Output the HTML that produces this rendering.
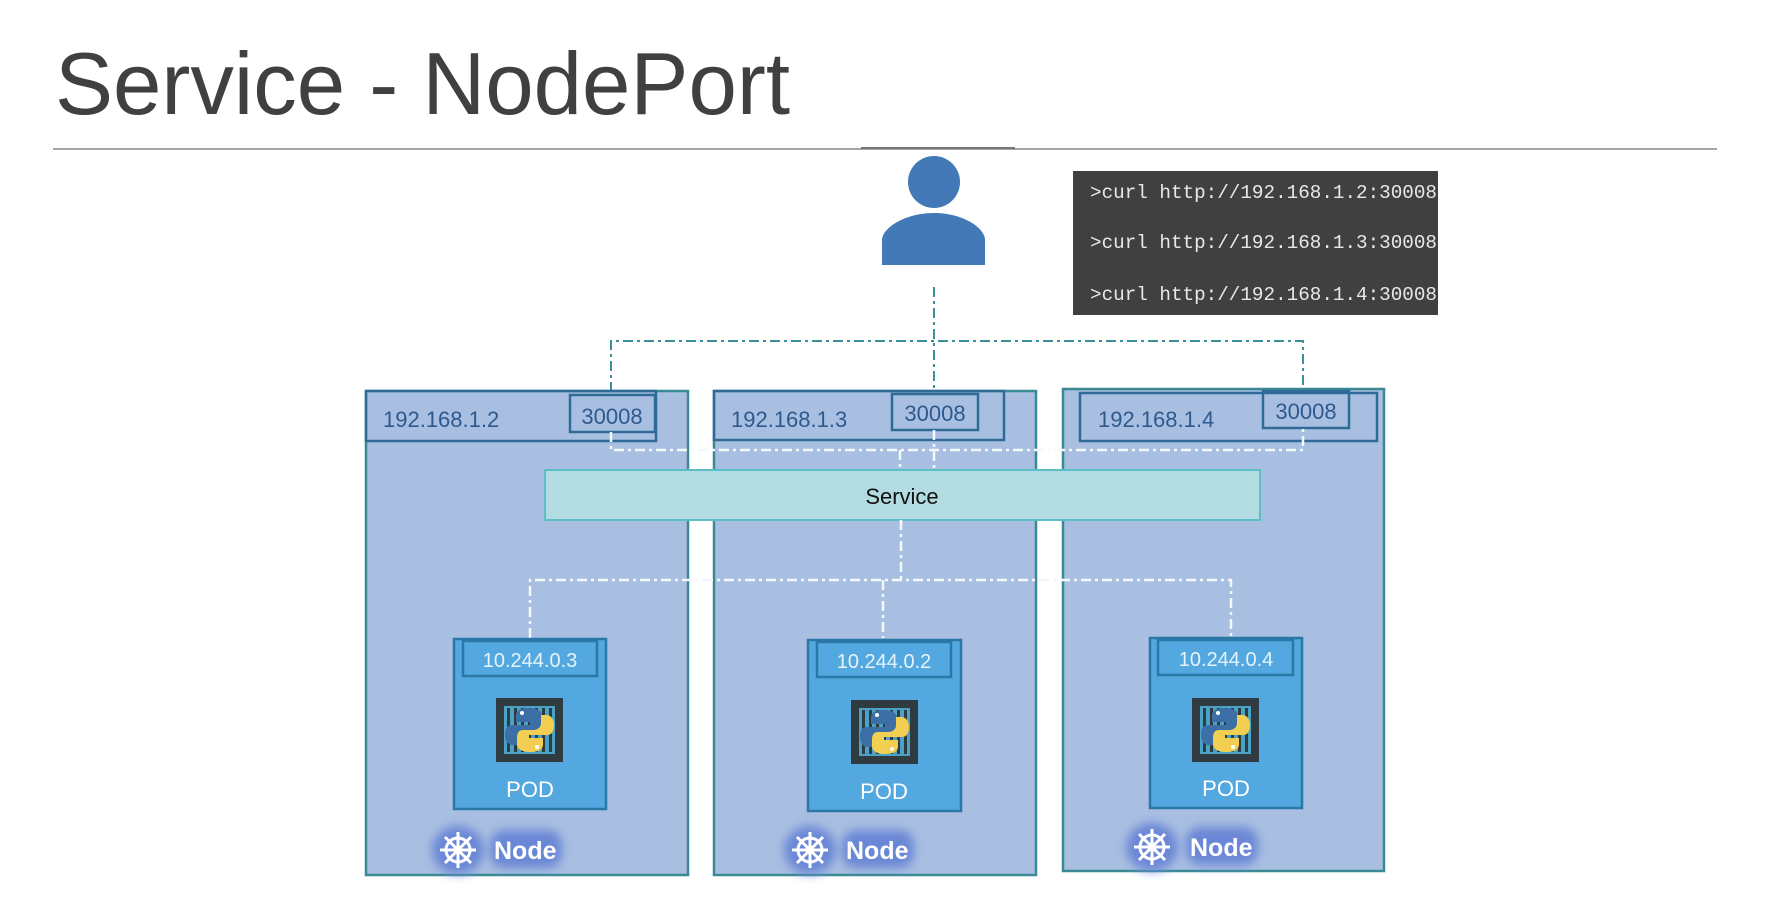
<!DOCTYPE html>
<html><head><meta charset="utf-8"><style>
html,body{margin:0;padding:0;background:#fff;width:1768px;height:902px;overflow:hidden}
svg{display:block}
</style></head><body>
<svg width="1768" height="902" viewBox="0 0 1768 902" xmlns="http://www.w3.org/2000/svg">
<defs>
<filter id="glow" x="-30%" y="-60%" width="160%" height="220%"><feGaussianBlur stdDeviation="5"/></filter>
<g id="pyicon">
 <rect x="0" y="0" width="67" height="64" fill="#2f3b40"/>
 <rect x="8" y="8" width="51" height="48" fill="#4aa3c4"/>
 <g fill="#2f3b40"><rect x="11" y="10" width="3" height="44"/><rect x="18" y="10" width="3" height="44"/><rect x="25" y="10" width="3" height="44"/><rect x="32" y="10" width="3" height="44"/><rect x="39" y="10" width="3" height="44"/><rect x="46" y="10" width="3" height="44"/><rect x="53" y="10" width="3" height="44"/></g>
 <path d="M33 10 C22 10 20 14 20 18 L20 24 L34 24 L34 27 L16 27 C10 27 9 33 9 37 C9 43 12 47 17 47 L22 47 L22 39 C22 35 25 32 30 32 L40 32 C44 32 46 29 46 25 L46 18 C46 13 41 10 33 10 Z" fill="#3b6fa5"/>
 <path d="M34 54 C45 54 47 50 47 46 L47 40 L33 40 L33 37 L51 37 C57 37 58 31 58 27 C58 21 55 17 50 17 L45 17 L45 25 C45 29 42 32 37 32 L27 32 C23 32 21 35 21 39 L21 46 C21 51 26 54 34 54 Z" fill="#f2cf52"/>
 <circle cx="26" cy="15" r="2" fill="#fff"/><circle cx="41" cy="49" r="2" fill="#fff"/>
</g>
<g id="wheel" stroke="#fff" fill="none" stroke-width="3">
 <circle cx="0" cy="0" r="12"/><circle cx="0" cy="0" r="3" fill="#fff"/>
 <line x1="0" y1="-18" x2="0" y2="18"/><line x1="-18" y1="0" x2="18" y2="0"/>
 <line x1="-13" y1="-13" x2="13" y2="13"/><line x1="13" y1="-13" x2="-13" y2="13"/>
</g>
</defs>

<text x="55" y="114" font-family="Liberation Sans, sans-serif" font-size="88" fill="#404040" textLength="735" lengthAdjust="spacingAndGlyphs">Service - NodePort</text>
<line x1="53" y1="149" x2="1717" y2="149" stroke="#888" stroke-width="1.5"/>
<line x1="861" y1="148" x2="1015" y2="148" stroke="#777" stroke-width="2"/>

<!-- person -->
<circle cx="934" cy="182" r="26" fill="#4279b6"/>
<path d="M882 265 L882 240 C882 228 905 213 934 213 C963 213 985 228 985 240 L985 265 Z" fill="#4279b6"/>

<!-- terminal -->
<rect x="1073" y="171" width="365" height="144" fill="#404040"/>
<g font-family="Liberation Mono, monospace" font-size="19" fill="#e8e8e8">
<text x="1090" y="198" textLength="347" lengthAdjust="spacingAndGlyphs">&gt;curl http://192.168.1.2:30008</text>
<text x="1090" y="248" textLength="347" lengthAdjust="spacingAndGlyphs">&gt;curl http://192.168.1.3:30008</text>
<text x="1090" y="300" textLength="347" lengthAdjust="spacingAndGlyphs">&gt;curl http://192.168.1.4:30008</text>
</g>

<!-- teal dash-dot external lines -->
<g stroke="#3a8f99" stroke-width="2" fill="none" stroke-dasharray="10 4 3 4">
<path d="M934 287 L934 392"/>
<path d="M611 392 L611 341 L1303 341 L1303 390"/>
</g>

<!-- nodes -->
<g id="n1">
<rect x="366" y="391" width="322" height="484" fill="#a9bfe1" stroke="#3a8a96" stroke-width="2.5"/>
<rect x="366" y="391" width="290" height="50" fill="none" stroke="#2f6b96" stroke-width="2.5"/>
<rect x="570" y="395" width="85" height="37" fill="none" stroke="#2f6b96" stroke-width="2.5"/>
<text x="383" y="427" font-family="Liberation Sans, sans-serif" font-size="22" fill="#2d5a8e">192.168.1.2</text>
<text x="612" y="424" text-anchor="middle" font-family="Liberation Sans, sans-serif" font-size="22" fill="#2d5a8e">30008</text>
</g>
<g>
<rect x="714" y="391" width="322" height="484" fill="#a9bfe1" stroke="#3a8a96" stroke-width="2.5"/>
<rect x="714" y="391" width="290" height="49" fill="none" stroke="#2f6b96" stroke-width="2.5"/>
<rect x="892" y="394" width="86" height="36" fill="none" stroke="#2f6b96" stroke-width="2.5"/>
<text x="731" y="427" font-family="Liberation Sans, sans-serif" font-size="22" fill="#2d5a8e">192.168.1.3</text>
<text x="935" y="421" text-anchor="middle" font-family="Liberation Sans, sans-serif" font-size="22" fill="#2d5a8e">30008</text>
</g>
<g>
<rect x="1063" y="389" width="321" height="482" fill="#a9bfe1" stroke="#3a8a96" stroke-width="2.5"/>
<rect x="1080" y="393" width="297" height="48" fill="none" stroke="#2f6b96" stroke-width="2.5"/>
<rect x="1263" y="391" width="86" height="37" fill="none" stroke="#2f6b96" stroke-width="2.5"/>
<text x="1098" y="427" font-family="Liberation Sans, sans-serif" font-size="22" fill="#2d5a8e">192.168.1.4</text>
<text x="1306" y="419" text-anchor="middle" font-family="Liberation Sans, sans-serif" font-size="22" fill="#2d5a8e">30008</text>
</g>

<!-- white dash line at ports -->
<g stroke="#f4f8fb" stroke-width="2.5" fill="none" stroke-dasharray="10 4 3 4">
<path d="M611 432 L611 450 L1303 450 L1303 428"/>
<path d="M934 430 L934 469"/>
<path d="M900 450 L900 469"/>
</g>

<!-- service -->
<rect x="545" y="470" width="715" height="50" fill="#b2dce1" stroke="#5cbfc6" stroke-width="2"/>
<text x="902" y="504" text-anchor="middle" font-family="Liberation Sans, sans-serif" font-size="22" fill="#111">Service</text>

<!-- white dash to pods -->
<g stroke="#f4f8fb" stroke-width="2.5" fill="none" stroke-dasharray="10 4 3 4">
<path d="M901 520 L901 580"/>
<path d="M530 638 L530 580 L1231 580 L1231 637"/>
<path d="M883 580 L883 638"/>
</g>

<!-- pods -->
<g>
<rect x="454" y="639" width="152" height="170" fill="#52a8df" stroke="#2b77a6" stroke-width="2.5"/>
<rect x="463" y="641" width="134" height="35" fill="none" stroke="#2b77a6" stroke-width="2.5"/>
<text x="530" y="667" text-anchor="middle" font-family="Liberation Sans, sans-serif" font-size="20" fill="#e6f3fb">10.244.0.3</text>
<use href="#pyicon" x="496" y="698"/>
<text x="530" y="797" text-anchor="middle" font-family="Liberation Sans, sans-serif" font-size="22" fill="#fff">POD</text>
</g>
<g>
<rect x="808" y="640" width="153" height="171" fill="#52a8df" stroke="#2b77a6" stroke-width="2.5"/>
<rect x="817" y="642" width="134" height="35" fill="none" stroke="#2b77a6" stroke-width="2.5"/>
<text x="884" y="668" text-anchor="middle" font-family="Liberation Sans, sans-serif" font-size="20" fill="#e6f3fb">10.244.0.2</text>
<use href="#pyicon" x="851" y="700"/>
<text x="884" y="799" text-anchor="middle" font-family="Liberation Sans, sans-serif" font-size="22" fill="#fff">POD</text>
</g>
<g>
<rect x="1150" y="638" width="152" height="170" fill="#52a8df" stroke="#2b77a6" stroke-width="2.5"/>
<rect x="1158" y="640" width="135" height="35" fill="none" stroke="#2b77a6" stroke-width="2.5"/>
<text x="1226" y="666" text-anchor="middle" font-family="Liberation Sans, sans-serif" font-size="20" fill="#e6f3fb">10.244.0.4</text>
<use href="#pyicon" x="1192" y="698"/>
<text x="1226" y="796" text-anchor="middle" font-family="Liberation Sans, sans-serif" font-size="22" fill="#fff">POD</text>
</g>

<!-- node labels -->
<g>
<ellipse cx="458" cy="850" rx="26" ry="24" fill="#6b86d6" filter="url(#glow)"/>
<rect x="490" y="830" width="72" height="38" rx="14" fill="#6b86d6" filter="url(#glow)"/>
<use href="#wheel" x="458" y="850"/>
<text x="494" y="859" font-family="Liberation Sans, sans-serif" font-weight="bold" font-size="25" fill="#fff">Node</text>
</g>
<g>
<ellipse cx="810" cy="850" rx="26" ry="24" fill="#6b86d6" filter="url(#glow)"/>
<rect x="842" y="830" width="72" height="38" rx="14" fill="#6b86d6" filter="url(#glow)"/>
<use href="#wheel" x="810" y="850"/>
<text x="846" y="859" font-family="Liberation Sans, sans-serif" font-weight="bold" font-size="25" fill="#fff">Node</text>
</g>
<g>
<ellipse cx="1152" cy="847" rx="26" ry="24" fill="#6b86d6" filter="url(#glow)"/>
<rect x="1186" y="827" width="72" height="38" rx="14" fill="#6b86d6" filter="url(#glow)"/>
<use href="#wheel" x="1152" y="847"/>
<text x="1190" y="856" font-family="Liberation Sans, sans-serif" font-weight="bold" font-size="25" fill="#fff">Node</text>
</g>
</svg>
</body></html>
